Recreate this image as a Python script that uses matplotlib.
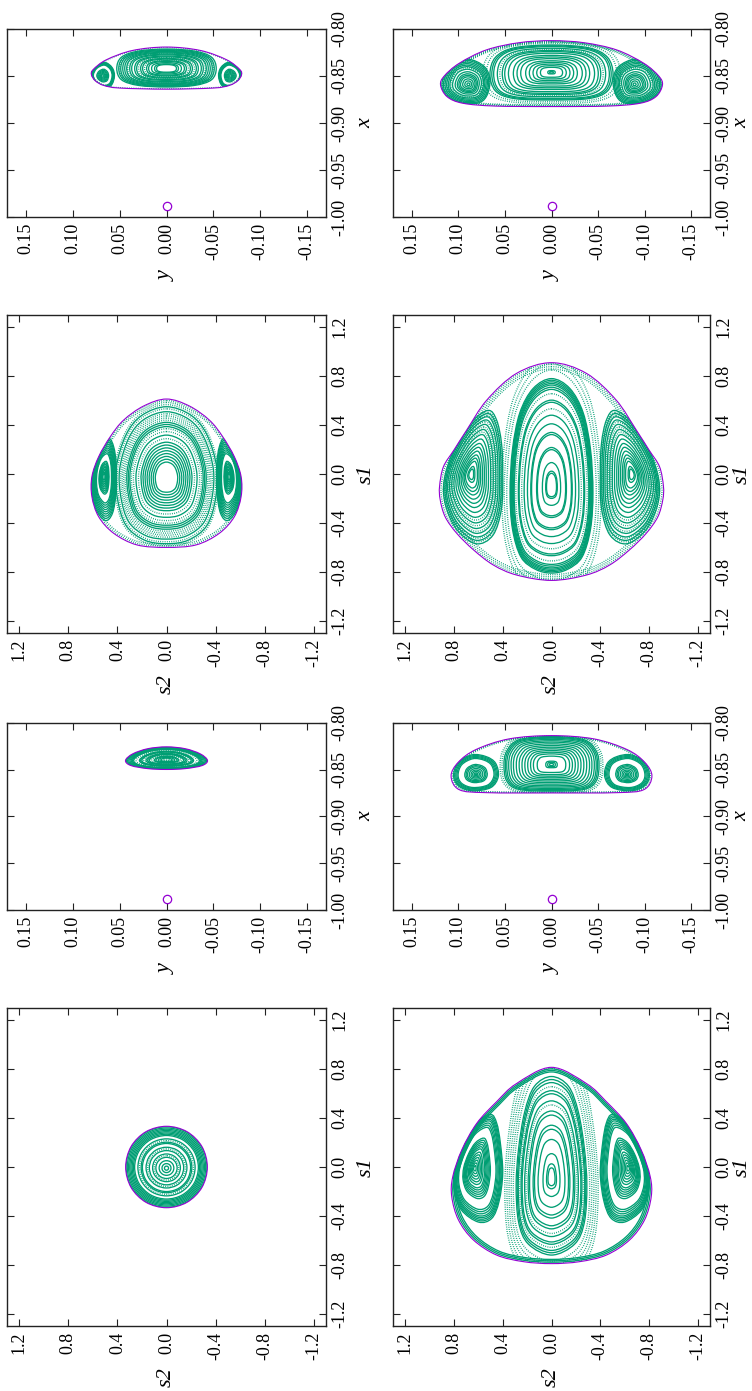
import numpy as np
import matplotlib
matplotlib.use("Agg")
import matplotlib.pyplot as plt
from matplotlib.path import Path
from matplotlib.patches import PathPatch
from matplotlib.transforms import Affine2D
from matplotlib.ticker import FixedLocator, FuncFormatter

GREEN = "#009E73"
PURPLE = "#9400D3"

# ---------------- ticks ----------------
S_TICKS = [-1.2, -0.8, -0.4, 0.0, 0.4, 0.8, 1.2]
Y_TICKS = [-0.15, -0.10, -0.05, 0.00, 0.05, 0.10, 0.15]
X_TICKS = [-1.00, -0.95, -0.90, -0.85, -0.80]
PRIMARY_Y = 0.0
PRIMARY_X = -0.98785

# ---------------- level 1 (smallest) ----------------
XY1_BOUND = [(0, -0.8255), (0.02, -0.8275), (0.036, -0.833), (0.0437, -0.840),
             (0.038, -0.8455), (0.02, -0.8488), (0, -0.8497)]
XY1_CENTER = (0.0, -0.8395)
XY1_SCALES = [0.98, 0.95, 0.92, 0.89, 0.86, 0.83, 0.8, 0.66, 0.63, 0.6, 0.5, 0.46,
              0.42, 0.3, 0.26, 0.2, 0.14]
XY1_DOTS = [0.74, 0.55, 0.36, 0.08]

S1_BOUND = [(0, 0.333), (0.167, 0.289), (0.289, 0.167), (0.333, 0.0),
            (0.289, -0.167), (0.167, -0.289), (0, -0.333)]
S1_CENTER = (0.0, -0.01)
S1_SCALES = [0.99, 0.96, 0.93, 0.9, 0.87, 0.84, 0.81, 0.78, 0.7, 0.62, 0.59, 0.5,
             0.42, 0.34, 0.26, 0.18, 0.11, 0.05]
S1_DOTS = [0.66, 0.46, 0.3]

# ---------------- level 2 ----------------
XY2_BOUND = [(0, -0.8192), (0.036, -0.8228), (0.064, -0.8327), (0.078, -0.843),
             (0.080, -0.8486), (0.076, -0.855), (0.067, -0.860), (0.050, -0.8628),
             (0, -0.864)]
XY2_CORE = [(0, -0.8213), (0.03, -0.8235), (0.048, -0.830), (0.053, -0.842),
            (0.048, -0.854), (0.03, -0.860), (0, -0.8617)]
XY2_CORE_CENTER = (0.0, -0.842)
XY2_CORE_SCALES = [1.0, 0.96, 0.92, 0.88, 0.84, 0.8, 0.74, 0.7, 0.64, 0.6, 0.52,
                   0.48, 0.4, 0.36, 0.3, 0.24, 0.2]
XY2_CORE_DOTS = [0.94, 0.78, 0.56, 0.44]
XY2_ISLAND = [(0.066, -0.8355), (0.076, -0.840), (0.0805, -0.849), (0.077, -0.857),
              (0.068, -0.8625), (0.059, -0.860), (0.0555, -0.850), (0.058, -0.841)]
XY2_ISLAND_CENTER = (0.068, -0.850)
XY2_ISLAND_SCALES = [1.0, 0.95, 0.9, 0.85, 0.8, 0.5, 0.42, 0.34, 0.26, 0.18, 0.1]
XY2_OUTER_DOTS = [0.985]

S2_BOUND = [(0, 0.613), (0.186, 0.556), (0.35, 0.44), (0.458, 0.305),
            (0.553, 0.141), (0.608, -0.022), (0.608, -0.185), (0.553, -0.349),
            (0.43, -0.485), (0.24, -0.58), (0, -0.60)]
S2_OUTER_DOTS = [0.98, 0.955]
S2_CORE = [(0, 0.55), (0.2, 0.48), (0.33, 0.32), (0.41, 0.05), (0.40, -0.2),
           (0.33, -0.42), (0.18, -0.54), (0, -0.57)]
S2_CORE_CENTER = (0.0, -0.03)
S2_CORE_SCALES = [1.0, 0.93, 0.78, 0.75, 0.72, 0.6, 0.5, 0.46, 0.42, 0.38, 0.34,
                  0.3, 0.26, 0.22]
S2_CORE_DOTS = [1.03, 0.97, 0.9, 0.87, 0.84, 0.81, 0.69, 0.65, 0.55]
S2_ISLAND = [(0.47, 0.29), (0.55, 0.22), (0.60, 0.06), (0.61, -0.12), (0.58, -0.28),
             (0.50, -0.38), (0.44, -0.32), (0.41, -0.14), (0.41, 0.08), (0.43, 0.22)]
S2_ISLAND_CENTER = (0.51, -0.02)
S2_ISLAND_SCALES = [1.0, 0.95, 0.9, 0.85, 0.8, 0.75, 0.7, 0.65, 0.6, 0.4, 0.36,
                    0.32, 0.28, 0.24, 0.2, 0.16, 0.12, 0.08]

# ---------------- level 3 ----------------
XY3_BOUND = [(0, -0.8135), (0.0455, -0.817), (0.081, -0.8284), (0.100, -0.842),
             (0.1077, -0.8568), (0.099, -0.8713), (0.07, -0.8745), (0, -0.8748)]
XY3_OUTER_DOTS = [0.985, 0.965]
XY3_CORE = [(0, -0.8145), (0.035, -0.818), (0.048, -0.83), (0.051, -0.845),
            (0.048, -0.862), (0.035, -0.871), (0, -0.8728)]
XY3_CORE_CENTER = (0.0, -0.8444)
XY3_CORE_SCALES = [1.0, 0.97, 0.94, 0.9, 0.85, 0.8, 0.74, 0.68, 0.62, 0.56, 0.5,
                   0.44, 0.38, 0.3, 0.12, 0.08, 0.04]
XY3_CORE_DOTS = [1.08, 1.04]
XY3_ISLAND = [(0.085, -0.834), (0.1, -0.842), (0.105, -0.856), (0.100, -0.867),
              (0.085, -0.8725), (0.065, -0.869), (0.057, -0.857), (0.060, -0.843),
              (0.07, -0.836)]
XY3_ISLAND_CENTER = (0.081, -0.855)
XY3_ISLAND_SCALES = [1.0, 0.95, 0.9, 0.85, 0.8, 0.5, 0.44, 0.38, 0.3, 0.22, 0.15,
                     0.08, 0.03]

S3_BOUND = [(0, 0.815), (0.29, 0.68), (0.45, 0.534), (0.613, 0.357),
            (0.736, 0.139), (0.81, -0.08), (0.818, -0.243), (0.763, -0.433),
            (0.64, -0.597), (0.45, -0.72), (0.23, -0.774), (0, -0.79)]
S3_OUTER = [0.985, 0.97, 0.955]
S3_CORE = [(0, 0.74), (0.14, 0.66), (0.22, 0.45), (0.27, 0.15), (0.29, -0.15),
           (0.27, -0.45), (0.19, -0.63), (0, -0.72)]
S3_CORE_CENTER = (0.0, -0.09)
S3_CORE_SCALES = [1.0, 0.97, 0.94, 0.86, 0.83, 0.76, 0.66, 0.62, 0.52, 0.48, 0.38,
                  0.24, 0.14, 0.1]
S3_CORE_DOTS = [1.32, 1.26, 1.2, 1.14, 1.08, 0.9, 0.72]
S3_ISLAND = [(0.50, 0.43), (0.62, 0.36), (0.72, 0.2), (0.79, 0.0), (0.80, -0.18),
             (0.74, -0.35), (0.60, -0.45), (0.49, -0.42), (0.43, -0.28),
             (0.40, -0.05), (0.42, 0.2), (0.45, 0.36)]
S3_ISLAND_CENTER = (0.63, -0.01)
S3_ISLAND_SCALES = [1.0, 0.97, 0.94, 0.91, 0.88, 0.84, 0.8, 0.76, 0.56, 0.52, 0.48,
                    0.44, 0.4, 0.36, 0.3, 0.25, 0.2, 0.15, 0.1, 0.05]

# ---------------- level 4 (largest) ----------------
XY4_BOUND = [(0, -0.8124), (0.035, -0.8146), (0.070, -0.8223), (0.099, -0.8365),
             (0.115, -0.850), (0.119, -0.8596), (0.112, -0.872), (0.095, -0.879),
             (0.06, -0.882), (0, -0.8825)]
XY4_OUTER_DOTS = [0.985, 0.965, 0.945]
XY4_CORE = [(0, -0.817), (0.04, -0.82), (0.06, -0.83), (0.066, -0.848),
            (0.06, -0.866), (0.04, -0.874), (0, -0.8755)]
XY4_CORE_CENTER = (0.0, -0.846)
XY4_CORE_SCALES = [1.0, 0.97, 0.94, 0.88, 0.8, 0.76, 0.7, 0.62, 0.56, 0.5, 0.42,
                   0.36, 0.3, 0.24, 0.18, 0.06, 0.03]
XY4_CORE_DOTS = [1.12, 1.06, 0.84]
XY4_ISLAND = [(0.09, -0.832), (0.108, -0.838), (0.117, -0.855), (0.115, -0.868),
              (0.10, -0.878), (0.08, -0.879), (0.07, -0.872), (0.066, -0.855),
              (0.072, -0.84)]
XY4_ISLAND_CENTER = (0.089, -0.859)
XY4_ISLAND_SCALES = [1.0, 0.94, 0.88, 0.82, 0.76, 0.7, 0.6, 0.5, 0.42, 0.36, 0.3,
                     0.22, 0.14, 0.06]
XY4_ISLAND_DOTS = [0.97, 0.66]

S4_BOUND = [(0, 0.91), (0.286, 0.823), (0.53, 0.605), (0.695, 0.36), (0.80, 0.196),
            (0.886, 0.06), (0.918, -0.10), (0.913, -0.21), (0.872, -0.35),
            (0.777, -0.485), (0.64, -0.62), (0.477, -0.744), (0.286, -0.826),
            (0, -0.87)]
S4_OUTER_DOTS = [0.985, 0.965, 0.945]
S4_CORE = [(0, 0.78), (0.15, 0.70), (0.26, 0.50), (0.32, 0.2), (0.34, -0.15),
           (0.32, -0.45), (0.25, -0.68), (0.13, -0.78), (0, -0.81)]
S4_CORE_CENTER = (0.0, -0.1)
S4_CORE_SCALES = [1.0, 0.985, 0.97, 0.955, 0.94, 0.92, 0.9, 0.8, 0.78, 0.66, 0.58,
                  0.5, 0.48, 0.36, 0.34, 0.22, 0.14, 0.12]
S4_CORE_DOTS = [1.2, 1.14, 1.08, 0.86, 0.72]
S4_ISLAND = [(0.52, 0.52), (0.66, 0.42), (0.80, 0.2), (0.88, -0.05), (0.87, -0.25),
             (0.78, -0.45), (0.62, -0.57), (0.48, -0.50), (0.41, -0.28),
             (0.40, 0.0), (0.41, 0.25), (0.45, 0.44)]
S4_ISLAND_CENTER = (0.66, 0.0)
S4_ISLAND_SCALES = [1.0, 0.95, 0.9, 0.85, 0.78, 0.7, 0.62, 0.55, 0.48, 0.42, 0.36,
                    0.3, 0.25, 0.2, 0.12, 0.08]
S4_ISLAND_DOTS = [0.97, 0.92, 0.82, 0.74, 0.66]

# ---------------- helpers ----------------
W_PX, H_PX = 752, 1391
plt.rcParams['font.family'] = ['Liberation Serif', 'DejaVu Serif']

fig = plt.figure(figsize=(W_PX / 100, H_PX / 100), dpi=100)


def mirror_loop(half):
    half = np.asarray(half, float)
    other = half[-2:0:-1].copy()
    other[:, 0] *= -1
    return np.vstack([half, other])


def flip(loop):
    arr = np.asarray(loop, float).copy()
    arr[:, 0] *= -1
    return arr


def smooth_path(pts):
    pts = np.asarray(pts, float)
    n = len(pts)
    verts = [pts[0]]
    codes = [Path.MOVETO]
    for i in range(n):
        p0, p1, p2, p3 = pts[i - 1], pts[i], pts[(i + 1) % n], pts[(i + 2) % n]
        verts += [p1 + (p2 - p0) / 6.0, p2 - (p3 - p1) / 6.0, p2]
        codes += [Path.CURVE4] * 3
    return Path(verts, codes)


SOLID = dict(fill=False, edgecolor=GREEN, lw=0.95)
DOTTED = dict(fill=False, edgecolor=GREEN, lw=1.0, linestyle=(0, (0.6, 1.0)))


def family(ax, loop, center, scales, style, clip):
    path = smooth_path(loop)
    cx, cy = center
    for k in scales:
        tr = Affine2D().translate(-cx, -cy).scale(k).translate(cx, cy) + ax.transData
        p = PathPatch(path, transform=tr, **style)
        ax.add_patch(p)
        p.set_clip_path(clip)


def make_axes(x0, y0, x1, y1):
    return fig.add_axes([x0 / W_PX, 1 - y1 / H_PX, (x1 - x0) / W_PX, (y1 - y0) / H_PX])


def style_axes(ax, xlim, ylim, xt, yt, fx, fy, xlab, ylab, box, right_col):
    ax.set_xlim(*xlim)
    ax.set_ylim(*ylim)
    ax.xaxis.set_major_locator(FixedLocator(xt))
    ax.yaxis.set_major_locator(FixedLocator(yt))
    ax.xaxis.set_major_formatter(FuncFormatter(lambda v, p: fx % (0.0 if abs(v) < 1e-9 else v)))
    ax.yaxis.set_major_formatter(FuncFormatter(lambda v, p: fy % (0.0 if abs(v) < 1e-9 else v)))
    ax.tick_params(direction='in', length=5, width=0.8, top=True, bottom=True,
                   left=True, right=True, labelleft=False, labelright=True,
                   labelsize=13, colors='#222222', labelcolor='black')
    ax.tick_params(axis='x', labelrotation=90, pad=4)
    ax.tick_params(axis='y', labelrotation=90, pad=4)
    for lab in ax.get_yticklabels():
        lab.set_verticalalignment('center')
    for s in ax.spines.values():
        s.set_linewidth(1.0)
        s.set_color('#222222')
    x0, y0, x1, y1 = box
    dy = 59 if xlab == 'y' else 51
    fig.text((x0 + x1) / 2 / W_PX, 1 - (y1 + dy) / H_PX, xlab, rotation=90,
             ha='center', va='center', fontsize=16, style='italic')
    dx = 32 if right_col else 40
    fig.text((x1 + dx) / W_PX, 1 - (y0 + y1) / 2 / H_PX, ylab, rotation=90,
             ha='center', va='center', fontsize=16, style='italic')


def panel(box, bound, core=None, core_c=None, core_s=(), core_d=(),
          isl=None, isl_c=None, isl_s=(), isl_d=(), outer=(), outer_d=(),
          outer_c=(0.0, 0.0)):
    ax = make_axes(*box)
    bl = mirror_loop(bound)
    clip = PathPatch(smooth_path(bl), fill=False, edgecolor=PURPLE, lw=0.8, zorder=3)
    ax.add_patch(clip)
    family(ax, bl, outer_c, outer, SOLID, clip)
    family(ax, bl, outer_c, outer_d, DOTTED, clip)
    if core is not None:
        cl = mirror_loop(core)
        family(ax, cl, core_c, core_s, SOLID, clip)
        family(ax, cl, core_c, core_d, DOTTED, clip)
    if isl is not None:
        for sgn in (1, -1):
            loop = np.asarray(isl, float) if sgn == 1 else flip(isl)
            c = (sgn * isl_c[0], isl_c[1])
            family(ax, loop, c, isl_s, SOLID, clip)
            family(ax, loop, c, isl_d, DOTTED, clip)
    return ax


# panel boxes (pixels)
LX0, LX1 = 7, 326
RX0, RX1 = 393, 710
ROW_A = (29, 217)
ROW_B = (315, 633)
ROW_C = (723, 910)
ROW_D = (1008, 1326)

XY_LIMS = ((0.17, -0.17), (-1.0, -0.8))
S_LIMS = ((1.3, -1.3), (-1.3, 1.3))


def xy_finish(ax, box, right_col):
    ax.plot([PRIMARY_Y], [PRIMARY_X], 'o', mfc='none', mec=PURPLE, ms=6, mew=0.9)
    style_axes(ax, XY_LIMS[0], XY_LIMS[1], Y_TICKS, X_TICKS, '%.2f', '%.2f', 'y', 'x',
               box, right_col)


def s_finish(ax, box, right_col):
    style_axes(ax, S_LIMS[0], S_LIMS[1], S_TICKS, S_TICKS, '%.1f', '%.1f', 's2', 's1',
               box, right_col)


# ---- left column ----
box = (LX0, ROW_A[0], LX1, ROW_A[1])
ax = panel(box, XY2_BOUND, XY2_CORE, XY2_CORE_CENTER, XY2_CORE_SCALES, XY2_CORE_DOTS,
           XY2_ISLAND, XY2_ISLAND_CENTER, XY2_ISLAND_SCALES,
           outer_d=XY2_OUTER_DOTS, outer_c=XY2_CORE_CENTER)
xy_finish(ax, box, False)

box = (LX0, ROW_B[0], LX1, ROW_B[1])
ax = panel(box, S2_BOUND, S2_CORE, S2_CORE_CENTER, S2_CORE_SCALES, S2_CORE_DOTS,
           S2_ISLAND, S2_ISLAND_CENTER, S2_ISLAND_SCALES, outer_d=S2_OUTER_DOTS)
s_finish(ax, box, False)

box = (LX0, ROW_C[0], LX1, ROW_C[1])
ax = panel(box, XY1_BOUND, XY1_BOUND, XY1_CENTER, XY1_SCALES, XY1_DOTS)
xy_finish(ax, box, False)

box = (LX0, ROW_D[0], LX1, ROW_D[1])
ax = panel(box, S1_BOUND, S1_BOUND, S1_CENTER, S1_SCALES, S1_DOTS)
s_finish(ax, box, False)

# ---- right column ----
box = (RX0, ROW_A[0], RX1, ROW_A[1])
ax = panel(box, XY4_BOUND, XY4_CORE, XY4_CORE_CENTER, XY4_CORE_SCALES, XY4_CORE_DOTS,
           XY4_ISLAND, XY4_ISLAND_CENTER, XY4_ISLAND_SCALES, XY4_ISLAND_DOTS,
           outer_d=XY4_OUTER_DOTS, outer_c=XY4_CORE_CENTER)
xy_finish(ax, box, True)

box = (RX0, ROW_B[0], RX1, ROW_B[1])
ax = panel(box, S4_BOUND, S4_CORE, S4_CORE_CENTER, S4_CORE_SCALES, S4_CORE_DOTS,
           S4_ISLAND, S4_ISLAND_CENTER, S4_ISLAND_SCALES, S4_ISLAND_DOTS,
           outer_d=S4_OUTER_DOTS, outer_c=(0.0, -0.02))
s_finish(ax, box, True)

box = (RX0, ROW_C[0], RX1, ROW_C[1])
ax = panel(box, XY3_BOUND, XY3_CORE, XY3_CORE_CENTER, XY3_CORE_SCALES, XY3_CORE_DOTS,
           XY3_ISLAND, XY3_ISLAND_CENTER, XY3_ISLAND_SCALES,
           outer_d=XY3_OUTER_DOTS, outer_c=XY3_CORE_CENTER)
xy_finish(ax, box, True)

box = (RX0, ROW_D[0], RX1, ROW_D[1])
ax = panel(box, S3_BOUND, S3_CORE, S3_CORE_CENTER, S3_CORE_SCALES, S3_CORE_DOTS,
           S3_ISLAND, S3_ISLAND_CENTER, S3_ISLAND_SCALES,
           outer=S3_OUTER, outer_c=(0.0, -0.02))
s_finish(ax, box, True)

fig.savefig("out.png", dpi=100)
